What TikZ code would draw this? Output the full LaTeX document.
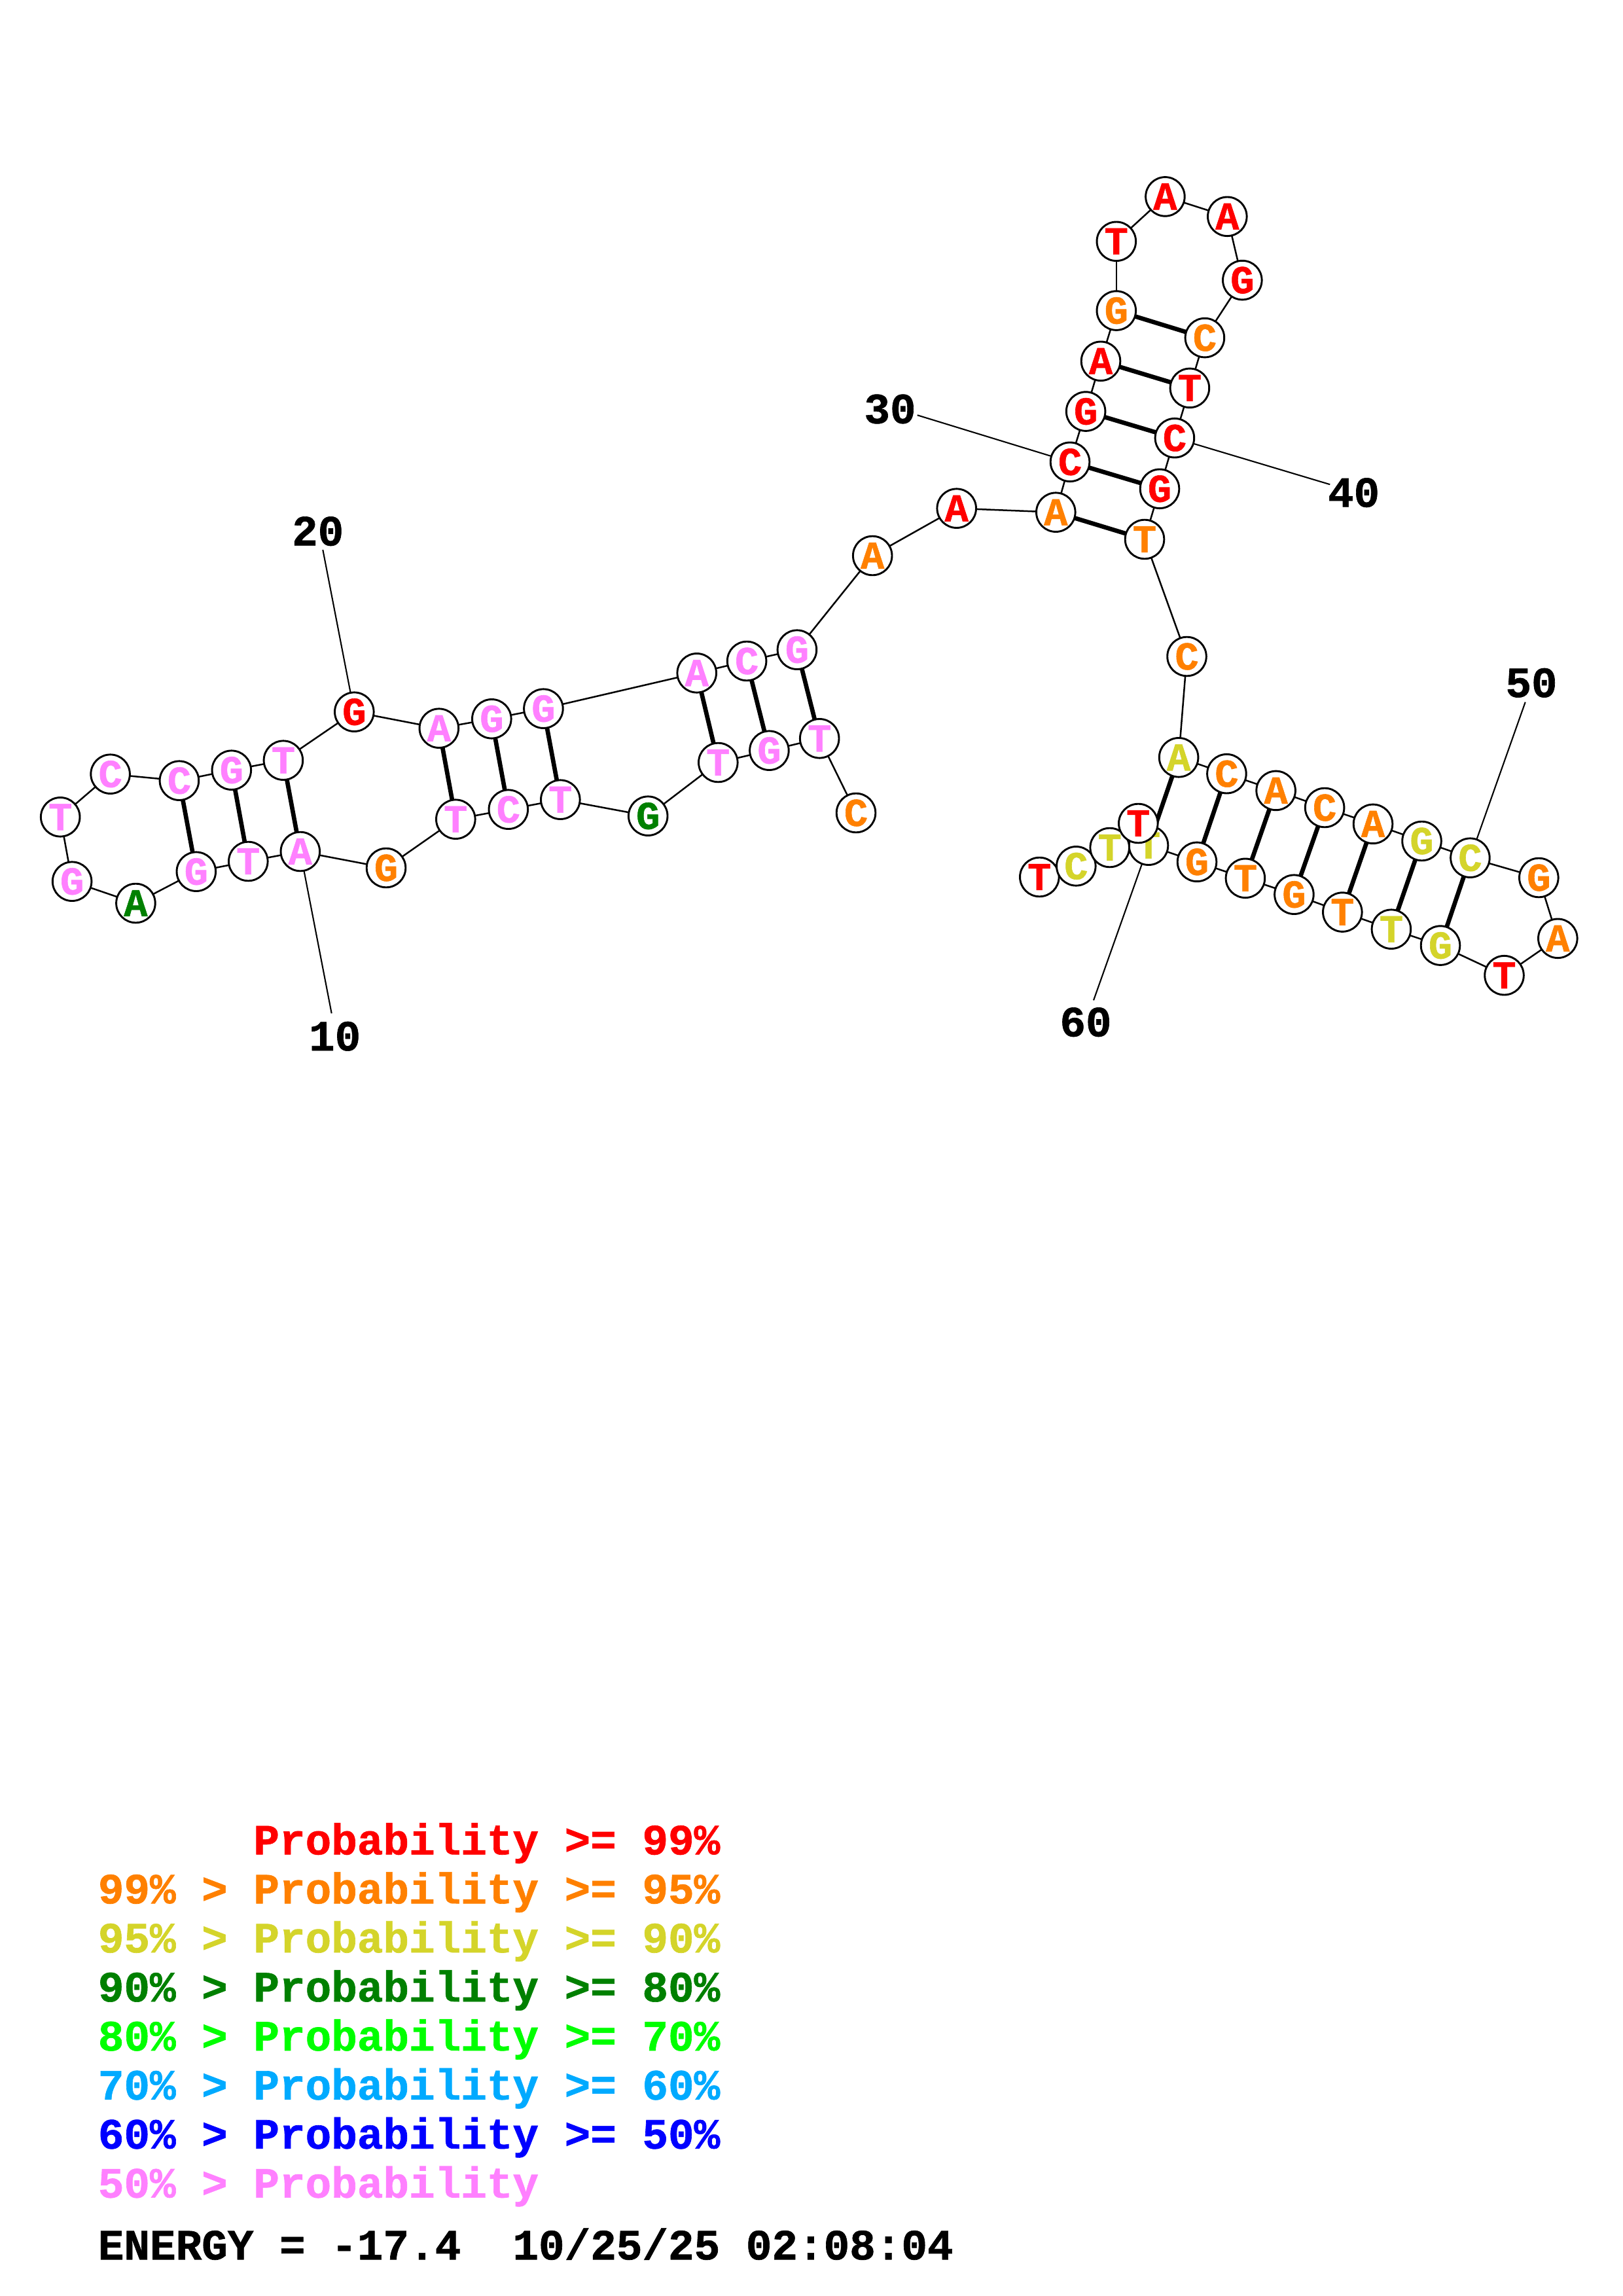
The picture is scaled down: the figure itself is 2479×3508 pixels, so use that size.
\documentclass[tikz,border=0pt]{standalone}
\usepackage{fontspec}
\newfontfamily\basefont{Liberation Mono}[BoldFeatures={FakeBold=1}]
\usetikzlibrary{backgrounds}
\definecolor{pr99}{RGB}{255,0,0}
\definecolor{pr95}{RGB}{255,128,0}
\definecolor{pr90}{RGB}{212,212,42}
\definecolor{pr80}{RGB}{0,128,0}
\definecolor{pr70}{RGB}{0,255,0}
\definecolor{pr60}{RGB}{0,170,255}
\definecolor{pr50}{RGB}{0,0,255}
\definecolor{prlow}{RGB}{255,128,255}
\begin{document}
\begin{tikzpicture}[x=0.24pt,y=-0.24pt,
  base/.style={circle,draw=black,fill=white,line width=0.7pt,minimum size=14.3pt,inner sep=0pt,
    font=\basefont\bfseries\fontsize{14.5pt}{14.5pt}\selectfont},
  backbone/.style={line width=0.6pt},
  pairline/.style={line width=1.6pt},
  numline/.style={line width=0.5pt},
  numlabel/.style={inner sep=0pt,font=\basefont\bfseries\fontsize{15.8pt}{15.8pt}\selectfont},
  legend/.style={anchor=base west,inner sep=0pt,font=\basefont\bfseries\fontsize{15.84pt}{15.84pt}\selectfont}
]
\useasboundingbox (0,0) rectangle (2479,3508);
% nucleotides
\foreach \n/\x/\y/\l/\c in {
 1/1308/1242/C/pr95, 2/1252.2/1128.3/T/prlow, 3/1175.4/1146.7/G/prlow, 4/1097.3/1165/T/prlow,
 5/990.2/1246.7/G/pr80, 6/856.3/1221.7/T/prlow, 7/776.8/1236.7/C/prlow, 8/696.3/1251.7/T/prlow,
 9/590/1326/G/pr95, 10/458.8/1301/A/prlow, 11/379.3/1316/T/prlow, 12/299.8/1331.7/G/prlow,
 13/207.4/1380/A/pr80, 14/110.1/1346.7/G/prlow, 15/92.2/1248.3/T/prlow, 16/168.6/1182.7/C/prlow,
 17/273.9/1192.7/C/prlow, 18/353.8/1176.7/G/prlow, 19/432.9/1161.7/T/prlow, 20/541.3/1087.7/G/pr99,
 21/670.8/1112.7/A/prlow, 22/751.3/1098.3/G/prlow, 23/830.4/1082.7/G/prlow, 24/1064.7/1028.3/A/prlow,
 25/1141.1/1010/C/prlow, 26/1217.9/992.7/G/prlow, 27/1333.2/849/A/pr95, 28/1461.7/776.7/A/pr99,
 29/1613.3/782.7/A/pr95, 30/1635/705.8/C/pr99, 31/1659.1/628.6/G/pr99, 32/1682/551.8/A/pr99,
 33/1705.8/474.6/G/pr95, 34/1705.8/368.8/T/pr99, 35/1780.4/300.4/A/pr99, 36/1875.3/330.8/A/pr99,
 37/1898.3/428.1/G/pr99, 38/1840.9/516.1/C/pr95, 39/1817.9/592.9/T/pr99, 40/1794.9/669.2/C/pr99,
 41/1772/746.8/G/pr99, 42/1749/824/T/pr95, 43/1813.5/1003/C/pr95, 44/1801.1/1157.3/A/pr90,
 45/1874.4/1182.2/C/pr95, 46/1949.6/1207.9/A/pr95, 47/2024.1/1234/C/pr95, 48/2098/1258.9/A/pr95,
 49/2172.5/1285/G/pr90, 50/2246.4/1310.7/C/pr90, 51/2351.3/1341/G/pr95, 52/2380.3/1433.8/A/pr95,
 53/2298.5/1490.2/T/pr99, 54/2201/1444.6/G/pr90, 55/2125.9/1419.7/T/pr90, 56/2051.3/1393.6/T/pr95,
 57/1977.4/1366.7/G/pr95, 58/1902.9/1341.8/T/pr95, 59/1829/1316.9/G/pr95, 60/1755/1291.7/T/pr90,
 64/1588.3/1340/T/pr99, 63/1644.3/1323.3/C/pr90, 62/1695.7/1295/T/pr90, 61/1739.3/1258/T/pr99}
 {\node[base,text=\c] (b\n) at (\x,\y) {\l};}
% label anchor points
\coordinate (l10) at (506.7,1548.3);
\coordinate (l20) at (493.3,840);
\coordinate (l30) at (1401.7,634.3);
\coordinate (l40) at (2032.2,740.2);
\coordinate (l50) at (2330.7,1072.7);
\coordinate (l60) at (1671,1528.3);
\begin{pgfonlayer}{background}
 \foreach \i [evaluate=\i as \j using int(\i+1)] in {1,...,63}
   {\draw[backbone] (b\i.center) -- (b\j.center);}
 \foreach \a/\b in {2/26,3/25,4/24,6/23,7/22,8/21,10/19,11/18,12/17,
   29/42,30/41,31/40,32/39,33/38,44/60,45/59,46/58,47/57,48/56,49/55,50/54}
   {\draw[pairline] (b\a.center) -- (b\b.center);}
 \foreach \n in {10,20,30,40,50,60}
   {\draw[numline] (b\n.center) -- (l\n);}
\end{pgfonlayer}
% number labels
\node[numlabel] (t10) at (511.7,1583.3) {10};
\node[numlabel] (t20) at (485.7,811.7) {20};
\node[numlabel] (t30) at (1360,625) {30};
\node[numlabel] (t40) at (2068.6,752.7) {40};
\node[numlabel] (t50) at (2340,1043.3) {50};
\node[numlabel] (t60) at (1659,1561.7) {60};
% legend
\node[legend,text=pr99] (g1) at (386.6,2833.3) {Probability >= 99\%};
\node[legend,text=pr95] (g2) at (149,2908.2) {99\% > Probability >= 95\%};
\node[legend,text=pr90] (g3) at (149,2983.1) {95\% > Probability >= 90\%};
\node[legend,text=pr80] (g4) at (149,3058) {90\% > Probability >= 80\%};
\node[legend,text=pr70] (g5) at (149,3132.9) {80\% > Probability >= 70\%};
\node[legend,text=pr60] (g6) at (149,3207.8) {70\% > Probability >= 60\%};
\node[legend,text=pr50] (g7) at (149,3282.7) {60\% > Probability >= 50\%};
\node[legend,text=prlow] (g8) at (149,3357.6) {50\% > Probability};
\node[legend,text=black] (g9) at (149,3452.2) {ENERGY = -17.4\ \ 10/25/25 02:08:04};
\end{tikzpicture}
\end{document}
